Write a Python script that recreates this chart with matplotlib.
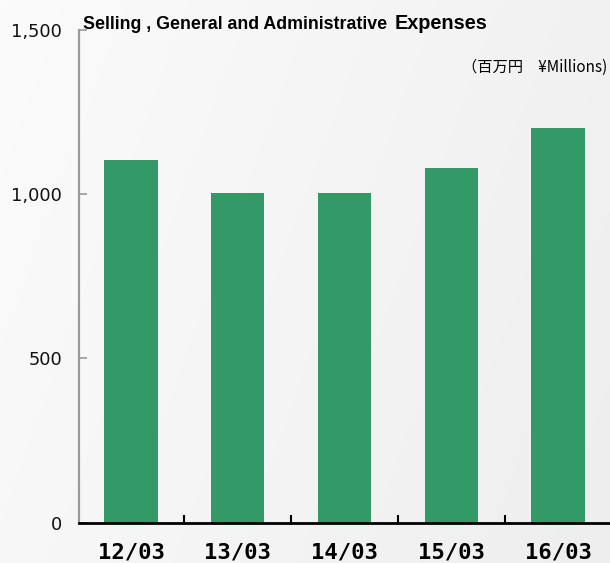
import numpy as np
import matplotlib
matplotlib.use("Agg")
import matplotlib.pyplot as plt
from matplotlib.colors import LinearSegmentedColormap

# data
years = ["12/03", "13/03", "14/03", "15/03", "16/03"]
expenses = [1103, 1003, 1003, 1079, 1201]
y_ticks = [0, 500, 1000, 1500]
y_labels = ["0", "500", "1,000", "1,500"]

BAR_COLOR = "#339966"

fig = plt.figure(figsize=(6.10, 5.63), dpi=100)
fig.patch.set_facecolor("#f6f6f6")

# light background gradient (lighter at left, a bit greyer to the right)
bg = fig.add_axes([0, 0, 1, 1], zorder=-10)
bg_cmap = LinearSegmentedColormap.from_list("bg", ["#fbfbfb", "#eeeeee"])
grad = np.linspace(0, 1, 256)[None, :] * 0.75 + np.linspace(0, 1, 256)[:, None] * 0.25
bg.imshow(grad, cmap=bg_cmap, vmin=0, vmax=1, aspect="auto", extent=[0, 1, 0, 1])
bg.axis("off")

ax = fig.add_axes([79 / 610, 40.3 / 563, 531 / 610, 493 / 563])
ax.patch.set_alpha(0)

x = np.arange(len(years))
ax.bar(x, expenses, width=0.5, color=BAR_COLOR, zorder=2)

ax.set_xlim(-0.487, len(years) - 1 + 0.487)
ax.set_ylim(0, 1500)

for s in ["top", "right"]:
    ax.spines[s].set_visible(False)
ax.spines["left"].set_color("#9a9a9a")
ax.spines["left"].set_linewidth(1.6)
ax.spines["bottom"].set_color("black")
ax.spines["bottom"].set_linewidth(2)

ax.set_yticks(y_ticks)
ax.set_yticklabels(y_labels, fontsize=12.8, color="#111111")
ax.tick_params(axis="y", direction="in", length=6, width=1.2, color="#9a9a9a", pad=12)

ax.set_xticks(x)
ax.set_xticklabels(years, fontsize=16, fontweight="bold", family="DejaVu Sans Mono")
ax.set_xticks(x[:-1] + 0.5, minor=True)
ax.tick_params(axis="x", which="major", length=0, pad=14)
ax.tick_params(axis="x", which="minor", direction="in", length=6, width=1.5, color="black")

fig.text(83 / 610, 1 - 29 / 563, "Selling , General and Administrative",
         fontsize=12.8, fontweight="bold", family="Liberation Sans", va="baseline")
fig.text(395 / 610, 1 - 29 / 563, "Expenses",
         fontsize=14.3, fontweight="bold", family="Liberation Sans", va="baseline")
fig.text(607 / 610, 1 - 67 / 563, "（百万円\u3000¥Millions)", fontsize=11,
         family=["Noto Sans CJK JP", "DejaVu Sans"], ha="right", va="center")

fig.savefig("out.png", dpi=100, facecolor=fig.get_facecolor())
